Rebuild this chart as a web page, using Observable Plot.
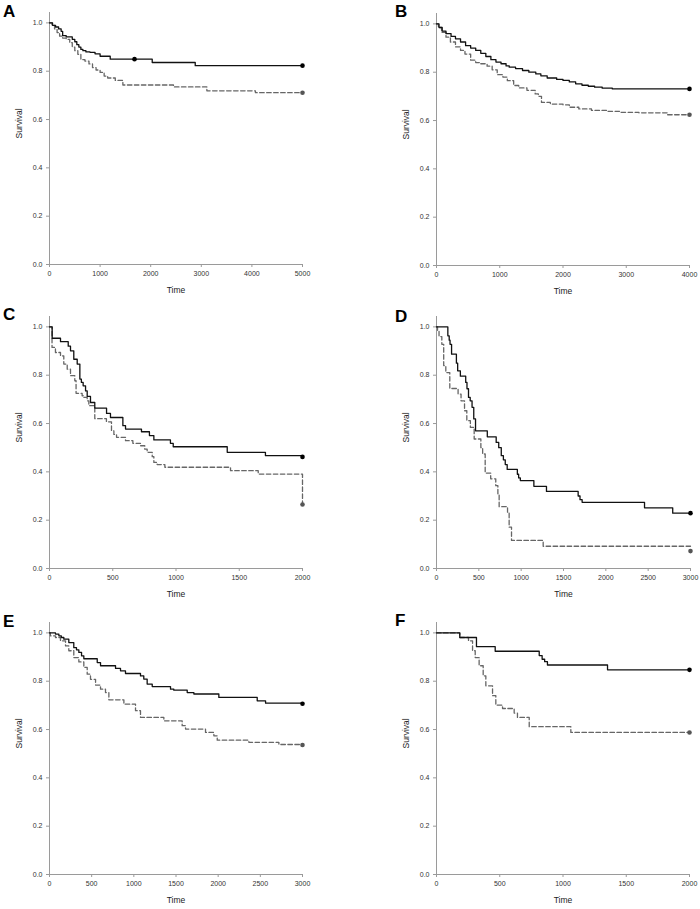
<!DOCTYPE html>
<html>
<head>
<meta charset="utf-8">
<script src="https://cdn.jsdelivr.net/npm/d3@7"></script>
<script src="https://cdn.jsdelivr.net/npm/@observablehq/plot@0.6"></script>
<style>
  html, body { margin: 0; padding: 0; background: #fff; }
  #wrap { position: relative; width: 700px; height: 909px; overflow: hidden; font-family: 'Liberation Sans', Arial, Helvetica, sans-serif; }
  .panel { position: absolute; }
  .letter { position: absolute; font-weight: bold; font-size: 17px; line-height: 1; color: #000; }
</style>
</head>
<body>
<div id="wrap"></div>
<script>
// ---- Data ----
const yTicks = [0, 0.2, 0.4, 0.6, 0.8, 1.0];

// Panel A
const aTicks = [0, 1000, 2000, 3000, 4000, 5000];
const aSolidT = [0, 60, 120, 180, 230, 260, 330, 450, 500, 540, 580, 620, 660, 720, 800, 900, 1000, 1200, 2030, 2880, 5000];
const aSolidS = [1.0, 0.99, 0.983, 0.975, 0.965, 0.947, 0.942, 0.932, 0.922, 0.91, 0.9, 0.89, 0.885, 0.88, 0.878, 0.872, 0.862, 0.85, 0.836, 0.823, 0.823];
const aDashT = [0, 50, 100, 150, 200, 260, 330, 400, 450, 500, 560, 620, 700, 780, 850, 920, 1000, 1080, 1150, 1300, 1450, 2450, 3110, 4070, 5000];
const aDashS = [1.0, 0.99, 0.975, 0.96, 0.945, 0.937, 0.932, 0.918, 0.9, 0.885, 0.87, 0.848, 0.842, 0.83, 0.815, 0.805, 0.795, 0.78, 0.772, 0.762, 0.743, 0.735, 0.719, 0.711, 0.711];
const aSolidDotT = [1680, 5000], aSolidDotS = [0.85, 0.823];
const aDashDotT = [5000], aDashDotS = [0.711];

// Panel B
const bTicks = [0, 1000, 2000, 3000, 4000];
const bSolidT = [0, 40, 90, 150, 230, 300, 380, 460, 540, 620, 700, 780, 860, 940, 1020, 1100, 1150, 1250, 1360, 1460, 1570, 1650, 1750, 1900, 2000, 2100, 2200, 2300, 2400, 2500, 2620, 2780, 4000];
const bSolidS = [1.0, 0.985, 0.97, 0.96, 0.948, 0.938, 0.925, 0.91, 0.9, 0.89, 0.878, 0.865, 0.852, 0.842, 0.835, 0.826, 0.821, 0.815, 0.807, 0.8, 0.793, 0.785, 0.776, 0.77, 0.766, 0.76, 0.752, 0.746, 0.742, 0.738, 0.734, 0.731, 0.731];
const bDashT = [0, 30, 80, 150, 220, 300, 380, 450, 540, 620, 700, 800, 880, 960, 1050, 1120, 1220, 1300, 1430, 1560, 1610, 1660, 1800, 2000, 2100, 2250, 2450, 2700, 2900, 3200, 3650, 4000];
const bDashS = [1.0, 0.985, 0.965, 0.945, 0.925, 0.905, 0.89, 0.875, 0.85, 0.84, 0.835, 0.825, 0.81, 0.79, 0.78, 0.765, 0.745, 0.735, 0.725, 0.71, 0.7, 0.675, 0.668, 0.665, 0.655, 0.648, 0.642, 0.638, 0.634, 0.632, 0.624, 0.624];
const bSolidDotT = [4000], bSolidDotS = [0.731];
const bDashDotT = [4000], bDashDotS = [0.624];

// Panel C
const cTicks = [0, 500, 1000, 1500, 2000];
const cSolidT = [0, 21, 87, 148, 166, 192, 219, 240, 252, 266, 285, 298, 324, 358, 451, 482, 580, 601, 727, 790, 825, 956, 978, 1405, 1707, 2000];
const cSolidS = [1.0, 0.953, 0.939, 0.92, 0.901, 0.866, 0.846, 0.784, 0.77, 0.756, 0.735, 0.712, 0.687, 0.664, 0.642, 0.625, 0.591, 0.577, 0.566, 0.55, 0.532, 0.518, 0.504, 0.481, 0.467, 0.467];
const cDashT = [0, 20, 47, 87, 113, 140, 166, 200, 210, 258, 272, 298, 311, 358, 450, 490, 509, 530, 601, 659, 719, 753, 772, 812, 825, 851, 912, 1431, 1650, 2000, 2000];
const cDashS = [1.0, 0.915, 0.894, 0.88, 0.846, 0.825, 0.798, 0.777, 0.725, 0.715, 0.708, 0.694, 0.674, 0.62, 0.607, 0.57, 0.555, 0.543, 0.529, 0.518, 0.508, 0.494, 0.481, 0.463, 0.439, 0.43, 0.419, 0.405, 0.391, 0.391, 0.267];
const cSolidDotT = [2000], cSolidDotS = [0.462];
const cDashDotT = [2000], cDashDotS = [0.265];

// Panel D
const dTicks = [0, 500, 1000, 1500, 2000, 2500, 3000];
const dSolidT = [0, 134, 150, 160, 178, 235, 250, 282, 345, 360, 378, 398, 420, 440, 461, 600, 705, 735, 765, 790, 812, 835, 955, 970, 990, 1150, 1299, 1673, 1695, 1720, 2457, 2790, 3000];
const dSolidS = [1.0, 0.963, 0.945, 0.928, 0.887, 0.85, 0.818, 0.796, 0.77, 0.744, 0.708, 0.694, 0.667, 0.619, 0.57, 0.545, 0.522, 0.5, 0.467, 0.45, 0.43, 0.41, 0.39, 0.375, 0.364, 0.34, 0.319, 0.3, 0.285, 0.274, 0.251, 0.229, 0.229];
const dDashT = [0, 12, 30, 63, 85, 110, 157, 255, 290, 331, 358, 400, 445, 524, 545, 575, 640, 700, 725, 740, 839, 858, 886, 1260, 3000];
const dDashS = [1.0, 0.983, 0.96, 0.928, 0.84, 0.811, 0.745, 0.722, 0.694, 0.653, 0.612, 0.584, 0.536, 0.5, 0.474, 0.395, 0.371, 0.343, 0.309, 0.256, 0.233, 0.171, 0.116, 0.092, 0.092];
const dSolidDotT = [3000], dSolidDotS = [0.229];
const dDashDotT = [3000], dDashDotS = [0.072];

// Panel E
const eTicks = [0, 500, 1000, 1500, 2000, 2500, 3000];
const eSolidT = [0, 71, 111, 140, 170, 229, 288, 320, 348, 380, 407, 566, 605, 783, 842, 901, 1079, 1118, 1158, 1218, 1435, 1474, 1633, 1712, 2008, 2463, 2562, 3000];
const eSolidS = [1.0, 0.995, 0.988, 0.981, 0.974, 0.96, 0.939, 0.93, 0.919, 0.905, 0.893, 0.877, 0.864, 0.853, 0.843, 0.832, 0.822, 0.809, 0.788, 0.778, 0.767, 0.763, 0.753, 0.747, 0.733, 0.719, 0.709, 0.709];
const eDashT = [0, 10, 71, 130, 190, 229, 288, 348, 407, 447, 486, 546, 605, 664, 704, 882, 1020, 1079, 1356, 1573, 1613, 1850, 1949, 1989, 2364, 2720, 3000];
const eDashS = [1.0, 0.988, 0.981, 0.967, 0.946, 0.926, 0.898, 0.88, 0.857, 0.829, 0.808, 0.784, 0.767, 0.753, 0.723, 0.705, 0.678, 0.65, 0.636, 0.616, 0.602, 0.588, 0.574, 0.556, 0.547, 0.538, 0.538];
const eSolidDotT = [3000], eSolidDotS = [0.707];
const eDashDotT = [3000], eDashDotS = [0.536];

// Panel F
const fTicks = [0, 500, 1000, 1500, 2000];
const fSolidT = [0, 184, 316, 464, 812, 835, 855, 877, 1352, 2000];
const fSolidS = [1.0, 0.981, 0.943, 0.924, 0.906, 0.891, 0.881, 0.867, 0.847, 0.847];
const fDashT = [0, 184, 253, 285, 306, 337, 369, 390, 443, 469, 522, 614, 640, 733, 1062, 2000];
const fDashS = [1.0, 0.981, 0.967, 0.926, 0.898, 0.864, 0.822, 0.781, 0.74, 0.701, 0.687, 0.668, 0.65, 0.612, 0.588, 0.588];
const fSolidDotT = [2000], fSolidDotS = [0.847];
const fDashDotT = [2000], fDashDotS = [0.588];

// ---- Drawing ----
const FONT = "'Liberation Sans', Arial, Helvetica, sans-serif";
const zip = (t, s) => t.map((v, i) => ({t: v, s: s[i]}));

function panel(o) {
  return Plot.plot({
    width: o.width, height: o.height,
    marginTop: o.mt, marginBottom: o.mb, marginLeft: o.ml, marginRight: o.mr,
    style: {fontFamily: FONT, fontSize: "7px", color: "#333", background: "transparent", overflow: "visible"},
    x: {domain: [0, o.xMax]},
    y: {domain: [0, 1.043]},
    marks: [
      Plot.ruleY([0], {stroke: "#9a9a9a", strokeWidth: 1}),
      Plot.ruleX([0], {stroke: "#9a9a9a", strokeWidth: 1}),
      Plot.axisX({ticks: o.ticks, tickFormat: d3.format("d"), tickSize: 3, tickPadding: 4, stroke: "#9a9a9a", fill: "#333", label: null}),
      Plot.axisY({ticks: yTicks, tickFormat: d3.format(".1f"), tickSize: 3, tickPadding: 4, stroke: "#9a9a9a", fill: "#333", label: null}),
      Plot.text(["Survival"], {frameAnchor: "left", dx: -30, rotate: -90, fontSize: 8.5, fill: "#222"}),
      Plot.text(["Time"], {frameAnchor: "bottom", dy: 28, fontSize: 8.5, fill: "#222"}),
      Plot.line(zip(o.dashT, o.dashS), {x: "t", y: "s", curve: "step-after", stroke: "#666", strokeWidth: 1.3, strokeDasharray: "4.5,2.5"}),
      Plot.line(zip(o.solidT, o.solidS), {x: "t", y: "s", curve: "step-after", stroke: "#111", strokeWidth: 1.3}),
      Plot.dot(zip(o.dashDotT, o.dashDotS), {x: "t", y: "s", r: 2.3, fill: "#555", stroke: "none"}),
      Plot.dot(zip(o.solidDotT, o.solidDotS), {x: "t", y: "s", r: 2.3, fill: "#000", stroke: "none"})
    ]
  });
}

const wrap = document.getElementById("wrap");
function place(node, left, top) {
  const d = document.createElement("div");
  d.className = "panel";
  d.style.left = left + "px";
  d.style.top = top + "px";
  d.appendChild(node);
  wrap.appendChild(d);
}
function letter(txt, left, top) {
  const d = document.createElement("div");
  d.className = "letter";
  d.style.left = left + "px";
  d.style.top = top + "px";
  d.textContent = txt;
  wrap.appendChild(d);
}

place(panel({width: 350, height: 300, mt: 12, mb: 36, ml: 49, mr: 48, xMax: 5000, ticks: aTicks,
  solidT: aSolidT, solidS: aSolidS, dashT: aDashT, dashS: aDashS,
  solidDotT: aSolidDotT, solidDotS: aSolidDotS, dashDotT: aDashDotT, dashDotS: aDashDotS}), 0, 0);
place(panel({width: 350, height: 300, mt: 13, mb: 35, ml: 86, mr: 11, xMax: 4000, ticks: bTicks,
  solidT: bSolidT, solidS: bSolidS, dashT: bDashT, dashS: bDashS,
  solidDotT: bSolidDotT, solidDotS: bSolidDotS, dashDotT: bDashDotT, dashDotS: bDashDotS}), 350, 0);
place(panel({width: 350, height: 300, mt: 16, mb: 32, ml: 49, mr: 48, xMax: 2000, ticks: cTicks,
  solidT: cSolidT, solidS: cSolidS, dashT: cDashT, dashS: cDashS,
  solidDotT: cSolidDotT, solidDotS: cSolidDotS, dashDotT: cDashDotT, dashDotS: cDashDotS}), 0, 300);
place(panel({width: 350, height: 300, mt: 16, mb: 32, ml: 86, mr: 10, xMax: 3000, ticks: dTicks,
  solidT: dSolidT, solidS: dSolidS, dashT: dDashT, dashS: dDashS,
  solidDotT: dSolidDotT, solidDotS: dSolidDotS, dashDotT: dDashDotT, dashDotS: dDashDotS}), 350, 300);
place(panel({width: 350, height: 309, mt: 22, mb: 35, ml: 49, mr: 48, xMax: 3000, ticks: eTicks,
  solidT: eSolidT, solidS: eSolidS, dashT: eDashT, dashS: eDashS,
  solidDotT: eSolidDotT, solidDotS: eSolidDotS, dashDotT: eDashDotT, dashDotS: eDashDotS}), 0, 600);
place(panel({width: 350, height: 309, mt: 22, mb: 35, ml: 86, mr: 11, xMax: 2000, ticks: fTicks,
  solidT: fSolidT, solidS: fSolidS, dashT: fDashT, dashS: fDashS,
  solidDotT: fSolidDotT, solidDotS: fSolidDotS, dashDotT: fDashDotT, dashDotS: fDashDotS}), 350, 600);

letter("A", 3, 3);
letter("B", 395, 3);
letter("C", 3, 306);
letter("D", 395, 308);
letter("E", 3, 613);
letter("F", 395, 612);
</script>
</body>
</html>
